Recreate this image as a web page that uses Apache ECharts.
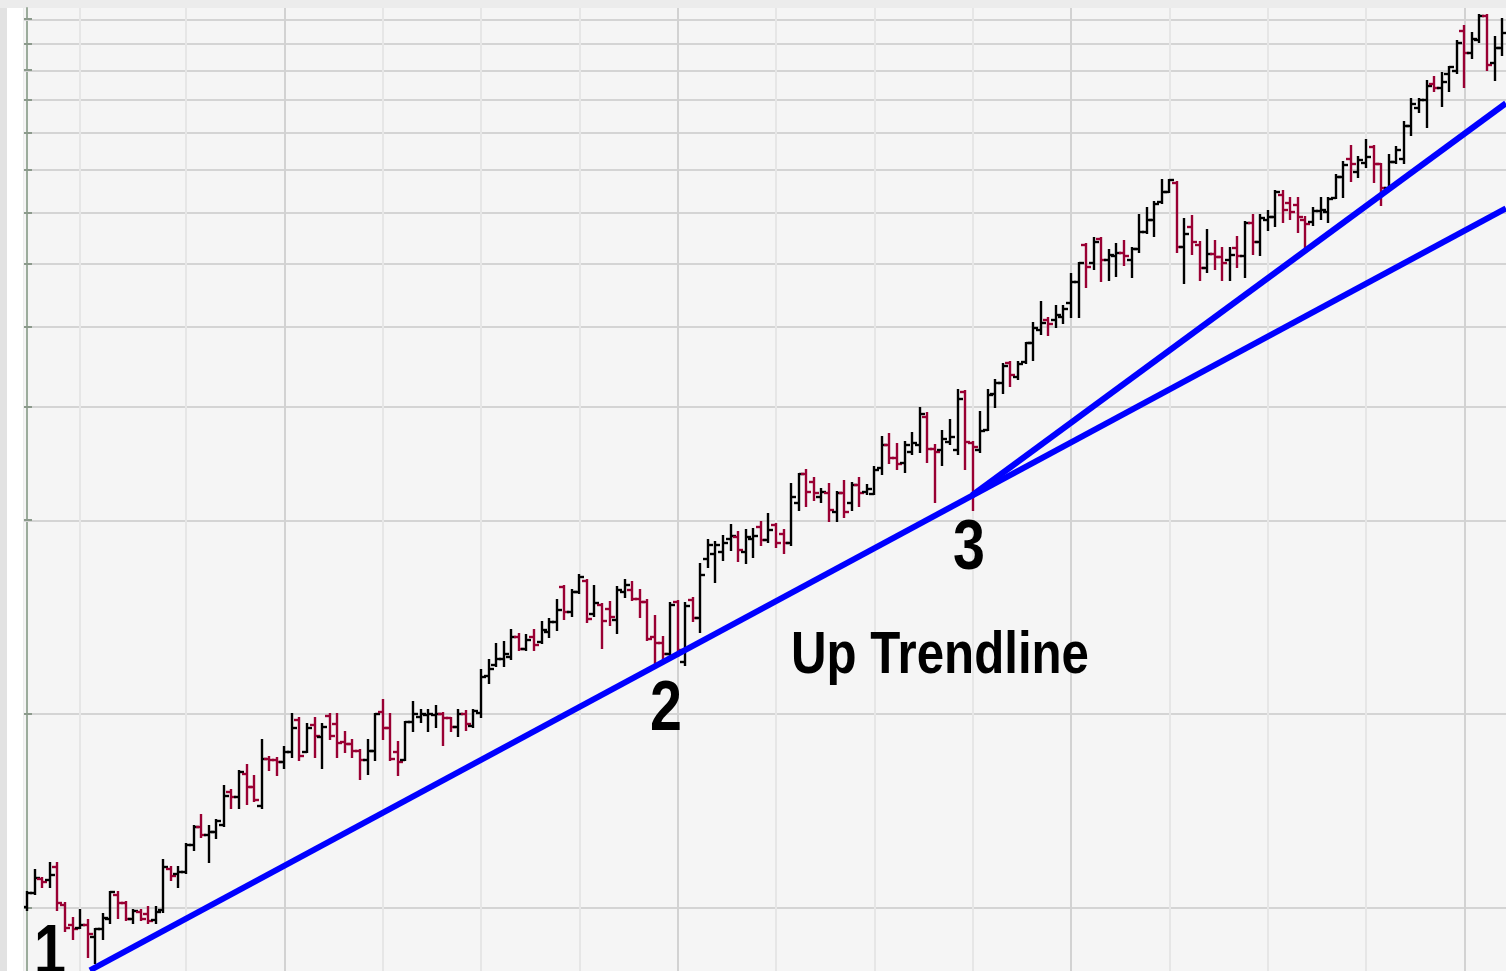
<!DOCTYPE html>
<html>
<head>
<meta charset="utf-8">
<script src="https://cdn.jsdelivr.net/npm/echarts@6/dist/echarts.min.js"></script>
<style>
  html, body { margin: 0; padding: 0; background: #ececec; }
  #chart { width: 1506px; height: 971px; }
</style>
</head>
<body>
<div id="chart"></div>
<script>
// weekly OHLC bars (price units on a log scale)
var opens = [
  5.02, 5.28, 5.54, 5.52, 5.79, 5.05, 4.70, 4.66, 4.70, 4.50,
  4.63, 4.80, 5.23, 5.09, 4.80, 4.92, 4.90, 4.79, 4.96, 5.75,
  5.65, 5.68, 6.26, 6.68, 6.48, 6.56, 6.72, 7.57, 7.43, 8.08,
  7.71, 7.19, 8.52, 8.50, 8.43, 8.73, 9.79, 8.74, 9.61, 9.20,
  9.95, 9.67, 9.06, 9.00, 8.76, 8.48, 8.76, 10.07, 9.50, 8.73,
  8.50, 9.73, 9.89, 9.98, 9.96, 10.01, 9.86, 9.55, 10.01, 9.58,
  10.03, 11.48, 11.91, 12.18, 12.25, 13.16, 12.64, 13.16, 12.95, 13.41,
  13.91, 15.76, 14.41, 15.47, 16.11, 14.32, 14.77, 14.59, 14.00, 15.47,
  15.61, 15.09, 14.95, 13.16, 12.88, 12.41, 14.95, 12.06, 15.04, 14.11,
  17.42, 17.75, 17.86, 18.71, 18.87, 17.86, 18.71, 19.54, 18.64, 19.66,
  19.07, 18.42, 21.25, 23.57, 22.96, 21.72, 22.05, 20.60, 22.05, 21.25,
  22.69, 22.13, 22.00, 24.08, 26.18, 25.00, 24.52, 25.54, 26.18, 28.92,
  25.77, 25.70, 26.49, 25.70, 31.65, 26.39, 25.70, 27.61, 31.38, 32.65,
  35.07, 33.45, 35.27, 37.67, 39.48, 40.95, 40.95, 41.36, 43.46, 46.96,
  53.54, 50.15, 54.72, 50.75, 51.40, 52.04, 50.75, 52.70, 56.11, 58.56,
  62.52, 64.74, 66.92, 53.21, 57.03, 53.54, 49.24, 51.92, 51.26, 50.75,
  52.90, 51.40, 57.99, 54.19, 58.56, 59.15, 63.95, 62.23, 61.78, 58.63,
  58.14, 60.43, 60.20, 63.46, 68.25, 72.95, 69.47, 71.80, 76.10, 71.54,
  65.64, 72.06, 72.95, 81.95, 87.39, 89.96, 95.25, 93.87, 98.71, 99.83,
  115.19, 106.51, 111.50, 121.48, 102.57, 108.31
];
var highs = [
  5.30, 5.72, 5.56, 5.87, 5.87, 5.09, 4.82, 4.96, 4.79, 4.64,
  4.90, 5.30, 5.30, 5.11, 4.96, 4.96, 5.02, 5.02, 5.94, 5.79,
  5.79, 6.28, 6.70, 6.96, 6.70, 6.84, 7.73, 7.63, 8.15, 8.35,
  8.01, 9.11, 8.57, 8.55, 8.89, 10.01, 9.86, 9.67, 9.86, 9.65,
  10.01, 10.01, 9.38, 9.11, 8.79, 9.11, 10.01, 10.51, 10.01, 9.05,
  9.73, 10.43, 10.14, 10.14, 10.29, 10.03, 9.88, 10.14, 10.11, 10.14,
  11.70, 12.13, 12.83, 12.95, 13.50, 13.33, 13.25, 13.53, 13.91, 14.05,
  15.04, 15.80, 15.57, 16.42, 16.15, 15.80, 14.82, 14.95, 15.76, 16.15,
  16.05, 15.57, 15.04, 14.23, 13.16, 14.86, 14.98, 14.89, 15.15, 17.10,
  18.64, 18.52, 18.94, 19.66, 19.18, 19.30, 19.42, 19.90, 20.48, 19.71,
  19.30, 22.74, 23.63, 23.93, 23.28, 22.41, 22.74, 22.13, 23.02, 22.83,
  23.28, 22.69, 24.22, 26.92, 27.27, 26.27, 26.49, 27.33, 29.84, 29.36,
  26.18, 27.54, 28.63, 31.85, 31.77, 26.49, 29.47, 31.85, 33.04, 34.98,
  35.27, 35.27, 37.75, 40.46, 43.72, 41.26, 43.04, 43.04, 48.33, 50.26,
  53.74, 54.93, 54.93, 52.57, 53.74, 54.38, 52.90, 59.53, 61.04, 62.52,
  67.57, 67.57, 67.16, 58.70, 59.30, 54.19, 56.46, 54.38, 52.90, 52.90,
  55.06, 58.20, 59.53, 59.53, 60.43, 64.99, 64.99, 63.39, 63.39, 59.20,
  61.04, 63.39, 63.39, 68.69, 72.14, 76.30, 73.31, 77.97, 76.30, 71.60,
  73.78, 76.10, 83.24, 90.19, 90.19, 96.39, 97.57, 99.16, 101.31, 111.22,
  117.20, 114.17, 121.91, 121.91, 112.58, 120.07
];
var lows = [
  4.97, 5.26, 5.38, 5.38, 4.97, 4.61, 4.47, 4.65, 4.19, 4.10,
  4.47, 4.73, 4.83, 4.78, 4.73, 4.78, 4.73, 4.73, 4.92, 5.52,
  5.38, 5.67, 6.14, 6.45, 5.89, 6.43, 6.70, 7.16, 7.16, 7.26,
  7.33, 7.16, 8.18, 8.05, 8.26, 8.59, 8.48, 8.73, 8.59, 8.26,
  9.15, 8.57, 8.73, 8.59, 7.93, 8.06, 8.48, 9.15, 8.48, 8.05,
  8.48, 9.41, 9.73, 9.41, 9.55, 8.94, 9.41, 9.26, 9.46, 9.55,
  9.91, 11.18, 11.87, 11.87, 12.18, 12.57, 12.57, 12.57, 12.88, 13.16,
  13.50, 14.05, 14.23, 15.45, 13.91, 14.23, 12.69, 13.75, 13.36, 15.19,
  15.04, 14.14, 13.03, 11.91, 12.06, 12.33, 12.33, 11.91, 13.96, 13.41,
  16.93, 16.05, 17.35, 17.97, 17.31, 17.15, 17.52, 18.30, 18.52, 18.19,
  17.79, 18.30, 20.79, 21.04, 21.50, 21.37, 19.97, 19.97, 20.22, 20.74,
  21.04, 21.94, 21.94, 23.63, 24.52, 23.99, 23.77, 25.38, 25.54, 24.66,
  21.37, 24.37, 26.27, 25.38, 23.99, 20.79, 25.54, 27.58, 29.95, 31.53,
  32.36, 33.16, 35.07, 35.49, 39.00, 38.75, 39.88, 40.46, 41.36, 41.36,
  46.11, 49.06, 47.13, 47.25, 47.85, 49.84, 47.72, 52.24, 55.90, 55.21,
  62.30, 64.70, 52.24, 46.69, 51.92, 47.25, 48.63, 49.06, 47.25, 47.25,
  49.53, 47.72, 51.92, 51.59, 56.46, 57.30, 58.20, 58.79, 56.11, 52.24,
  57.51, 58.79, 58.20, 63.39, 63.54, 67.40, 68.25, 70.84, 67.16, 61.78,
  65.16, 71.73, 71.73, 79.25, 86.20, 81.56, 92.93, 88.03, 92.93, 99.16,
  94.11, 104.43, 110.82, 100.09, 96.63, 105.66
];
var closes = [
  5.28, 5.56, 5.49, 5.63, 5.08, 4.66, 4.64, 4.70, 4.56, 4.63,
  4.82, 5.29, 5.09, 4.80, 4.94, 4.80, 4.77, 4.92, 5.78, 5.61,
  5.68, 6.26, 6.68, 6.48, 6.56, 6.82, 7.47, 7.43, 8.13, 7.71,
  7.35, 8.52, 8.48, 8.43, 8.73, 9.50, 8.62, 9.50, 9.26, 9.55,
  9.26, 9.02, 9.00, 8.76, 8.48, 8.76, 9.99, 9.50, 8.52, 8.43,
  9.71, 9.99, 9.99, 10.01, 10.01, 9.86, 9.55, 10.01, 9.67, 10.11,
  11.44, 11.77, 12.18, 12.41, 13.16, 12.64, 13.03, 12.80, 13.50, 13.91,
  14.50, 14.41, 15.47, 16.36, 14.05, 14.86, 13.96, 14.14, 15.57, 15.86,
  15.09, 14.95, 13.08, 12.88, 12.41, 14.77, 12.57, 14.71, 14.11, 16.42,
  18.30, 18.30, 18.42, 18.94, 17.97, 18.87, 18.94, 18.64, 19.35, 18.42,
  18.42, 21.72, 23.57, 22.13, 22.05, 22.13, 20.74, 22.05, 20.60, 22.69,
  22.05, 22.41, 23.93, 26.18, 25.00, 24.46, 26.18, 26.34, 29.29, 25.77,
  25.54, 26.76, 26.92, 30.87, 26.49, 26.01, 27.54, 31.26, 32.65, 34.72,
  33.58, 34.98, 37.67, 39.73, 40.46, 40.36, 41.62, 42.52, 46.96, 50.15,
  49.53, 54.19, 50.75, 51.59, 52.04, 51.40, 52.70, 56.11, 58.56, 62.00,
  64.74, 67.50, 53.21, 55.77, 54.19, 49.24, 51.92, 51.26, 50.15, 51.59,
  51.40, 57.99, 54.19, 59.01, 59.19, 64.74, 60.65, 60.20, 59.15, 57.72,
  60.50, 60.65, 63.15, 68.25, 71.28, 71.54, 72.58, 73.23, 71.54, 65.64,
  72.06, 75.18, 81.95, 88.68, 89.96, 94.56, 93.87, 96.05, 101.20, 110.30,
  106.51, 111.90, 121.48, 101.94, 108.31, 114.17
];

// horizontal grid levels (price) and quarter / year lines (bar index)
var gridLevels = [5, 10, 20, 30, 40, 50, 60, 70, 80, 90, 100, 110, 120];
var quarterBars = [7, 21, 34, 47, 60, 73, 86, 99, 112, 125, 138, 151, 164, 177, 190];
var yearBars = [34, 86, 138, 190];

// trendlines: [bar index, price]
var trendMain = [[8.3, 4.00], [195.5, 61.04]];
var trendSteep = [[124.9, 21.86], [195.5, 88.90]];

var digitFont = 'bold 70px "Liberation Sans", Arial, sans-serif';
var titleFont = 'bold 60px "Liberation Sans", Arial, sans-serif';

var chart = echarts.init(document.getElementById('chart'));

var barData = opens.map(function (o, i) {
  return [i, o, highs[i], lows[i], closes[i]];
});

function renderBar(params, api) {
  var i = api.value(0);
  var o = api.value(1);
  var c = api.value(4);
  var hi = api.coord([i, api.value(2)]);
  var lo = api.coord([i, api.value(3)]);
  var po = api.coord([i, o]);
  var pc = api.coord([i, c]);
  var color = c >= o ? '#000000' : '#990033';
  var x = Math.round(hi[0]);
  var st = { stroke: color, lineWidth: 2.4 };
  return {
    type: 'group',
    children: [
      { type: 'line', shape: { x1: x, y1: Math.round(hi[1]) - 1, x2: x, y2: Math.round(lo[1]) + 1 }, style: st },
      { type: 'line', shape: { x1: x - 5, y1: Math.round(po[1]), x2: x, y2: Math.round(po[1]) }, style: st },
      { type: 'line', shape: { x1: x, y1: Math.round(pc[1]), x2: x + 5, y2: Math.round(pc[1]) }, style: st }
    ]
  };
}

function renderTick(params, api) {
  var p = api.coord([-0.42, api.value(0)]);
  return {
    type: 'line',
    shape: { x1: p[0], y1: Math.round(p[1]), x2: p[0] + 8, y2: Math.round(p[1]) },
    style: { stroke: '#8c9a8c', lineWidth: 2 }
  };
}

var gridMarks = gridLevels.map(function (v) {
  return { yAxis: v, lineStyle: { color: '#d4d4d4', width: 2, type: 'solid' } };
}).concat(quarterBars.map(function (b) {
  var year = yearBars.indexOf(b) >= 0;
  return { xAxis: b, lineStyle: { color: year ? '#d2d2d2' : '#e6e6e6', width: 2, type: 'solid' } };
}));

// annotation text, squeezed horizontally like the narrow face of the original
function label(text, x, y, font) {
  return {
    type: 'text', x: x, y: y, z: 20, scaleX: 0.82,
    style: { text: text, font: font, fill: '#000', align: 'center', verticalAlign: 'middle' }
  };
}

var option = {
  backgroundColor: '#ececec',
  animation: false,
  grid: {
    left: 24, right: 0, top: 8, bottom: 0,
    show: true, backgroundColor: '#f5f5f5', borderWidth: 0
  },
  xAxis: {
    type: 'value',
    min: -0.42,
    max: 195.51,
    show: false,
    splitLine: { show: false }
  },
  yAxis: {
    type: 'log',
    logBase: 10,
    min: 3.99,
    max: 125,
    axisLine: { show: true, lineStyle: { color: '#9cac9c', width: 2 } },
    axisTick: { show: false },
    axisLabel: { show: false },
    splitLine: { show: false },
    minorSplitLine: { show: false }
  },
  graphic: [
    { type: 'rect', left: 0, top: 8, shape: { width: 7, height: 963 }, style: { fill: '#e2e2e2' }, z: 0 },
    { type: 'rect', left: 7, top: 8, shape: { width: 16, height: 963 }, style: { fill: '#ffffff' }, z: 0 },
    label('1', 50, 955, digitFont),
    label('2', 666, 711, digitFont),
    label('3', 969, 550, digitFont),
    label('Up Trendline', 940, 656, titleFont)
  ],
  series: [
    {
      name: 'grid',
      type: 'line',
      data: [],
      z: 1,
      silent: true,
      markLine: {
        z: 1,
        silent: true,
        symbol: ['none', 'none'],
        label: { show: false },
        emphasis: { disabled: true },
        animation: false,
        data: gridMarks
      }
    },
    {
      name: 'ticks',
      type: 'custom',
      z: 2,
      silent: true,
      renderItem: renderTick,
      data: gridLevels.map(function (v) { return [v]; }),
      encode: { y: 0 }
    },
    {
      name: 'bars',
      type: 'custom',
      z: 3,
      renderItem: renderBar,
      data: barData,
      encode: { x: 0, y: [2, 3] },
      clip: true
    },
    {
      name: 'trend main',
      type: 'line',
      z: 4,
      data: trendMain,
      showSymbol: false,
      lineStyle: { color: '#0000ff', width: 6 },
      clip: true
    },
    {
      name: 'trend steep',
      type: 'line',
      z: 4,
      data: trendSteep,
      showSymbol: false,
      lineStyle: { color: '#0000ff', width: 6 },
      clip: true
    }
  ]
};

chart.setOption(option);
</script>
</body>
</html>
